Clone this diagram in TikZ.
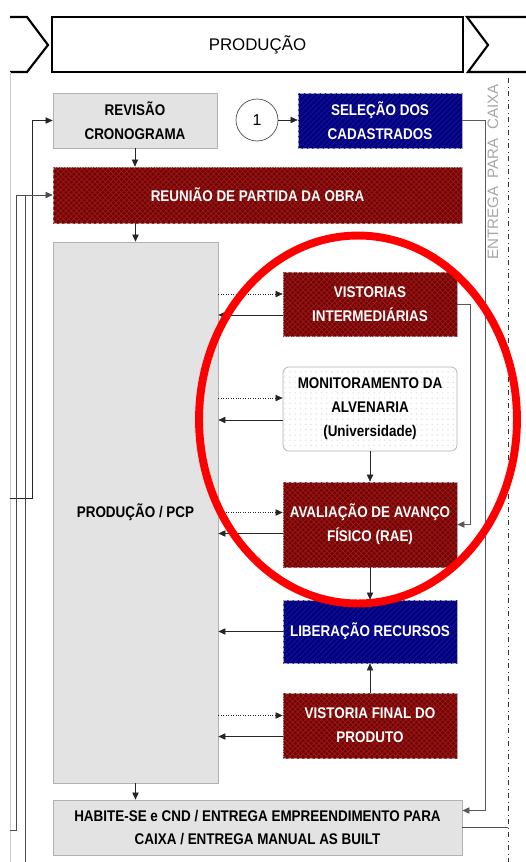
\documentclass[tikz,border=0pt]{standalone}
\usepackage{fontspec}
\setmainfont{Liberation Sans}
\newfontfamily\boxfont[FakeStretch=0.87]{Liberation Sans}
\usepackage{tikz}
\usetikzlibrary{arrows.meta,patterns,positioning,calc}
\definecolor{prodnavy}{RGB}{0,0,128}
\definecolor{prodnavyline}{RGB}{22,22,150}
\definecolor{prodred}{RGB}{122,0,0}
\definecolor{prodredline}{RGB}{145,30,30}
\definecolor{prodgray}{RGB}{227,227,227}

\begin{document}
\begin{tikzpicture}[x=0.02cm, y=-0.02cm,
  box/.style={draw=gray!60, inner sep=0pt, align=center,
    font=\boxfont\bfseries\fontsize{8.8}{13.6}\selectfont},
  graybox/.style={box, fill=prodgray},
  navybox/.style={box, fill=prodnavy, text=white,
    postaction={pattern=north east lines, pattern color=prodnavyline}},
  redbox/.style={box, fill=prodred, text=white,
    postaction={pattern=crosshatch, pattern color=prodredline}},
  monbox/.style={box, fill=white, rounded corners=0.12cm,
    postaction={pattern=dots, pattern color=gray!20}},
  arr/.style={black!85, -{Triangle[length=4pt,width=3.6pt]}},
  dotarr/.style={arr, densely dotted},
  wire/.style={black!70}]
\def\px{0.02cm}
\useasboundingbox (0,0) rectangle (526,862);

% Header of the lane, with the neighbouring chevrons
\draw[line width=1.2pt] (10,17) -- (27,17) -- (48,45) -- (27,72) -- (10,72);
\draw[line width=1.2pt] (526,17) -- (467,17) -- (488,45) -- (468,72) -- (526,72);
\node[draw, line width=1.2pt, minimum width=411*\px, minimum height=55*\px,
  font=\fontsize{9.6}{11}\selectfont] (cab) at (257.5,44.5) {PRODUÇÃO};

% Lane boundaries
\draw[gray!40] (10,72) -- (10,862);
\draw[black!80, dash dot] (508,78) -- (508,862);
\node[rotate=90, text=gray!70, font=\fontsize{8.6}{10}\selectfont] (lane) at (493,172)
  {ENTREGA\ \ PARA\ \ CAIXA};

% Boxes
\node[graybox, minimum width=164*\px, minimum height=55*\px] (revisao) at (135,120.5)
  {REVISÃO\\CRONOGRAMA};
\node[draw=black!70, circle, minimum size=42*\px, inner sep=0pt,
  font=\fontsize{9}{10}\selectfont] (um) at (257,120) {1};
\node[navybox, minimum width=164*\px, minimum height=55*\px] (selecao) at (380,120.5)
  {SELEÇÃO DOS\\CADASTRADOS};
\node[redbox, minimum width=409*\px, minimum height=56*\px] (reuniao) at (257.5,195)
  {REUNIÃO DE PARTIDA DA OBRA};
\node[graybox, text=black, minimum width=165*\px, minimum height=541*\px] (pcp) at (135.5,512.5)
  {PRODUÇÃO / PCP};
\node[redbox, minimum width=174*\px, minimum height=64*\px] (vistorias) at (370,304)
  {VISTORIAS\\INTERMEDIÁRIAS};
\node[monbox, minimum width=174*\px, minimum height=84*\px] (monit) at (370,409)
  {MONITORAMENTO DA\\ALVENARIA\\(Universidade)};
\node[redbox, minimum width=174*\px, minimum height=85*\px] (avaliacao) at (370,524.5)
  {AVALIAÇÃO DE AVANÇO\\FÍSICO (RAE)};
\node[navybox, minimum width=174*\px, minimum height=63*\px] (liberacao) at (370,631.5)
  {LIBERAÇÃO RECURSOS};
\node[redbox, minimum width=174*\px, minimum height=65*\px] (vfinal) at (370,725.5)
  {VISTORIA FINAL DO\\PRODUTO};
\node[graybox, minimum width=409*\px, minimum height=55*\px] (habite) at (257.5,827.5)
  {HABITE-SE e CND / ENTREGA EMPREENDIMENTO PARA\\CAIXA / ENTREGA MANUAL AS BUILT};

% Main sequence
\draw[arr] (um.east) -- (um.east -| selecao.west);
\draw[arr] (revisao.south) -- (revisao.south |- reuniao.north);
\draw[arr] (pcp.north |- reuniao.south) -- (pcp.north);
\draw[arr] (pcp.south) -- (pcp.south |- habite.north);

% Exchanges between PCP and the boxes on the right
\foreach \n/\a/\b in {vistorias/-10/11, monit/-11/11, avaliacao/-12/9, vfinal/-10/11}{
  \coordinate (\n-in) at ($(\n.west)+(0,\a)$);
  \coordinate (\n-out) at ($(\n.west)+(0,\b)$);
  \draw[dotarr] (pcp.east |- \n-in) -- (\n-in);
  \draw[arr] (\n-out) -- (pcp.east |- \n-out);
}
\draw[arr] (liberacao.west) -- (pcp.east |- liberacao.west);

\draw[arr] (monit.south) -- (avaliacao.north);
\draw[arr] (avaliacao.south) -- (liberacao.north);
\draw[arr] (vfinal.north) -- (liberacao.south);
\draw[arr, black!65] (vistorias.east) -- ++(13,0) |- (avaliacao.east);
\draw[arr, black!65] (selecao.east) -- ++(23,0) |- ($(habite.east)+(0,-17)$);
\coordinate (laneR) at (508,829);
\draw[wire] (habite.east) -- (habite.east -| laneR);

% Inputs from the lanes on the left
\coordinate (inA) at (10,498);
\coordinate (inB) at (10,830);
\coordinate (inC) at (25,862);
\draw[arr] (inA) -- ++(22,0) |- (revisao.west);
\draw[arr, black!70] (inB) -- ++(6,0) |- (reuniao.west);
\draw[wire] (inC) -- (inC |- reuniao.west);

% Highlight
\draw[red, line width=4.5pt] (358,419.5) ellipse [x radius=3.18cm, y radius=3.68cm];
\end{tikzpicture}
\end{document}
